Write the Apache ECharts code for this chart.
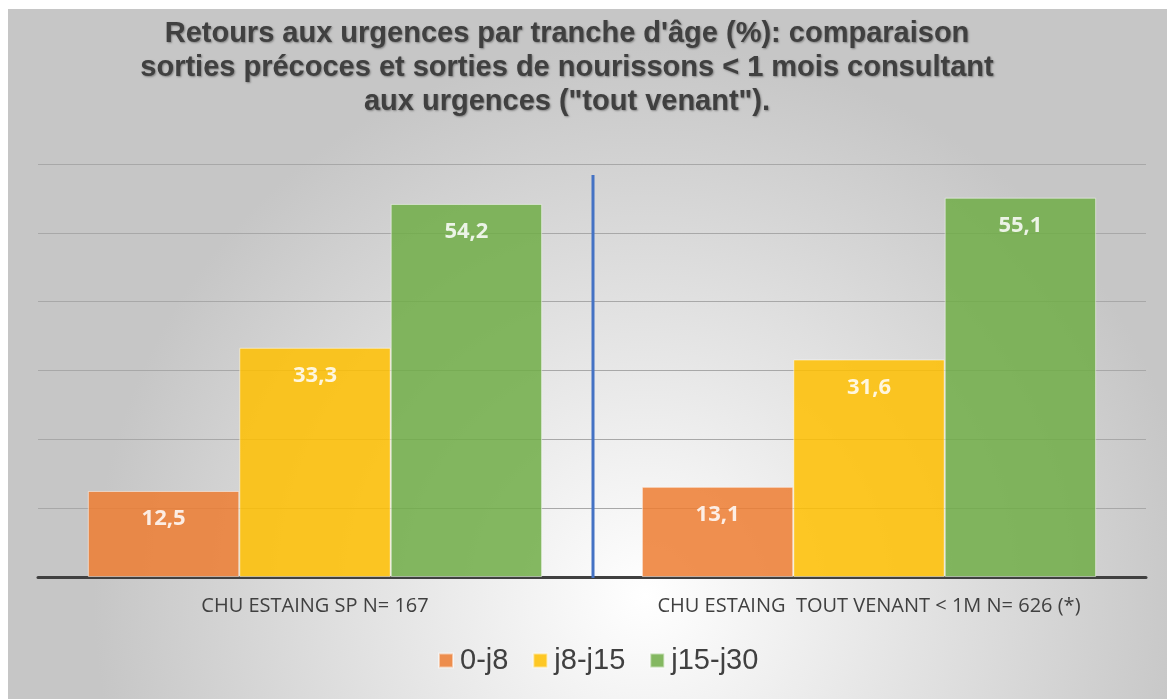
<!DOCTYPE html>
<html>
<head>
<meta charset="utf-8">
<script src="https://cdn.jsdelivr.net/npm/echarts@6/dist/echarts.min.js"></script>
<style>
html,body{margin:0;padding:0;background:#fff;}
#c{position:absolute;left:0;top:0;width:1167px;height:699px;}
</style>
</head>
<body>
<div id="c"></div>
<script>
var categories = ['CHU ESTAING SP N= 167', 'CHU ESTAING  TOUT VENANT < 1M N= 626 (*)'];
var seriesNames = ['0-j8', 'j8-j15', 'j15-j30'];
var values0_8 = [12.5, 13.1];
var values8_15 = [33.3, 31.6];
var values15_30 = [54.2, 55.1];
var colors = ['#ed7d31', '#ffc000', '#70ad47'];
var titleText = "Retours aux urgences par tranche d'âge (%): comparaison\nsorties précoces et sorties de nourissons < 1 mois consultant\naux urgences (\"tout venant\").";

var chart = echarts.init(document.getElementById('c'), null, {renderer: 'canvas'});
function lbl() {
  return {
    show: true, position: 'insideTop', distance: 17,
    color: '#fff', fontWeight: 'bold', fontSize: 22, fontFamily: 'Open Sans, Lato, sans-serif',
    formatter: function (p) { return p.value.toFixed(1).replace('.', ','); }
  };
}
function mk(name, data, color) {
  return {
    name: name, type: 'bar', data: data, barGap: '0%', barCategoryGap: '18%',
    itemStyle: {color: color, opacity: 0.85, borderColor: 'rgba(255,255,255,0.6)', borderWidth: 1},
    label: lbl()
  };
}
var gridL = 38, gridR = 21, gridT = 164, gridB = 122;
var bg = {type: 'rect', z: -10, silent: true, shape: {x: 8, y: 9, width: 1159, height: 690},
  style: {fill: new echarts.graphic.RadialGradient(0.55, 0.85, 0.8, [
    {offset: 0, color: '#ffffff'}, {offset: 1, color: '#c6c6c6'}])}};
var titleG = {type: 'text', z: 20, silent: true, x: 567, y: 17,
  style: {text: titleText, align: 'center', verticalAlign: 'top',
    font: 'bold 29px "Liberation Sans", Arial, sans-serif', lineHeight: 34, fill: '#404040',
    textShadowColor: 'rgba(0,0,0,0.35)', textShadowBlur: 2, textShadowOffsetX: 1, textShadowOffsetY: 1}};
chart.setOption({
  animation: false,
  graphic: [bg, titleG],
  legend: {
    bottom: 19, left: 433, itemWidth: 14, itemHeight: 14, itemGap: 24,
    icon: 'rect',
    textStyle: {fontFamily: 'Liberation Sans, Arial, sans-serif', fontSize: 29, color: '#404040', padding: [0, 0, 0, 2]},
    data: seriesNames
  },
  grid: {left: gridL, right: gridR, top: gridT, bottom: gridB, containLabel: false},
  xAxis: {
    type: 'category', data: categories,
    axisLine: {lineStyle: {color: '#404040', width: 3}},
    axisTick: {show: false},
    axisLabel: {interval: 0, fontFamily: 'Open Sans, Lato, sans-serif', fontSize: 20, color: '#404040', margin: 19}
  },
  yAxis: {
    type: 'value', min: 0, max: 60, interval: 10,
    axisLabel: {show: false}, axisLine: {show: false}, axisTick: {show: false},
    splitLine: {lineStyle: {color: '#a8a8a8', width: 1}}
  },
  series: [
    mk(seriesNames[0], values0_8, colors[0]),
    mk(seriesNames[1], values8_15, colors[1]),
    mk(seriesNames[2], values15_30, colors[2])
  ]
});
// vertical separator between the two categories
var midX = gridL + (1167 - gridL - gridR) / 2 + 1;
var baseY = chart.convertToPixel({yAxisIndex: 0}, 0);
var topY = chart.convertToPixel({yAxisIndex: 0}, 58.4);
chart.setOption({
  graphic: [bg, titleG,
    {type: 'line', z: 10, silent: true, shape: {x1: midX, y1: topY, x2: midX, y2: baseY + 1},
     style: {stroke: '#4472c4', lineWidth: 3}}
  ]
});
</script>
</body>
</html>
